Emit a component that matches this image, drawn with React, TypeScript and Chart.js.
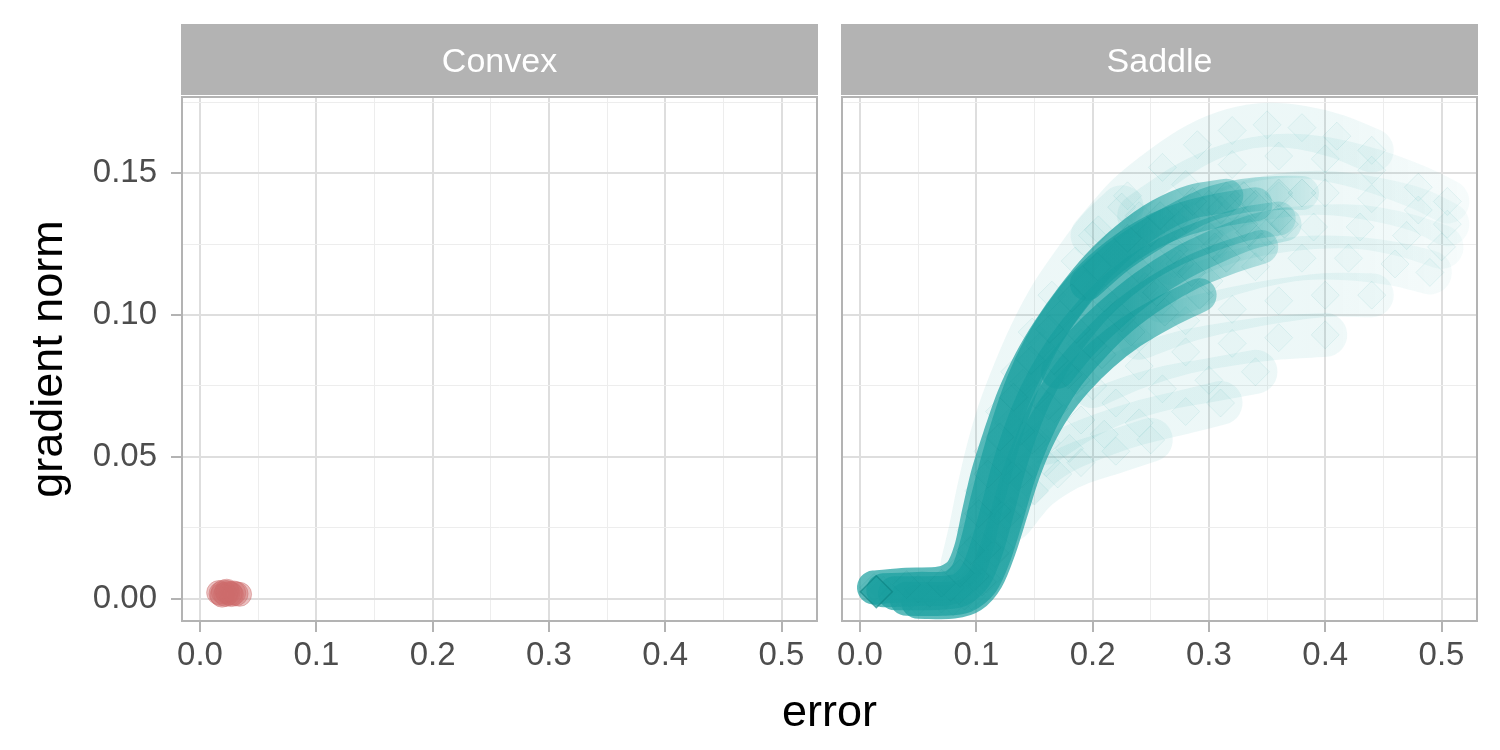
import React, { useEffect, useRef } from "react";
import { Chart, registerables } from "chart.js";

Chart.register(...registerables);

// ---- axes / facets ----
const panelTitles = ["Convex", "Saddle"];
const xTitle = "error";
const yTitle = "gradient norm";
const xMajor = [0, 0.1, 0.2, 0.3, 0.4, 0.5];
const xMinor = [0.05, 0.15, 0.25, 0.35, 0.45];
const yMajor = [0, 0.05, 0.1, 0.15];
const yMinor = [0.025, 0.075, 0.125, 0.175];
const xLimits = [-0.0155, 0.5305];
const yLimits = [-0.0078, 0.1768];

// ---- Convex facet (error, gradient norm) ----
const convexErr = [0.016, 0.018, 0.02, 0.022, 0.024, 0.026, 0.019, 0.023, 0.027, 0.029, 0.031, 0.034];
const convexGrad = [0.0022, 0.0018, 0.0024, 0.0016, 0.0022, 0.0019, 0.0013, 0.0027, 0.0015, 0.0021, 0.0018, 0.0016];

// ---- Saddle facet: dense core trajectories [error, gradient norm] ----
const saddleStart = [[0.014, 0.0025]];
const saddleCore0 = [[0.012, 0.004], [0.04, 0.005], [0.07, 0.0055], [0.086, 0.009], [0.095, 0.017], [0.102, 0.03], [0.11, 0.044], [0.12, 0.057], [0.132, 0.071], [0.147, 0.084], [0.163, 0.095], [0.182, 0.106], [0.204, 0.117], [0.23, 0.127], [0.258, 0.135], [0.286, 0.14], [0.315, 0.142]];
const saddleCore1 = [[0.02, 0.003], [0.05, 0.0035], [0.078, 0.004], [0.092, 0.009], [0.101, 0.02], [0.109, 0.034], [0.118, 0.048], [0.128, 0.062], [0.14, 0.076], [0.155, 0.089], [0.172, 0.1], [0.193, 0.111], [0.22, 0.121], [0.25, 0.129], [0.28, 0.134], [0.31, 0.137], [0.34, 0.139]];
const saddleCore2 = [[0.03, 0.002], [0.06, 0.002], [0.085, 0.003], [0.099, 0.008], [0.109, 0.018], [0.118, 0.031], [0.127, 0.045], [0.138, 0.059], [0.151, 0.072], [0.167, 0.084], [0.186, 0.095], [0.21, 0.106], [0.24, 0.116], [0.27, 0.123], [0.3, 0.128], [0.33, 0.132], [0.36, 0.134]];
const saddleCore3 = [[0.04, 0.0], [0.07, 0.0], [0.09, 0.001], [0.105, 0.006], [0.116, 0.016], [0.126, 0.029], [0.136, 0.043], [0.148, 0.056], [0.162, 0.068], [0.179, 0.079], [0.2, 0.089], [0.225, 0.099], [0.255, 0.108], [0.285, 0.115], [0.315, 0.12], [0.345, 0.124]];
const saddleCore4 = [[0.05, -0.001], [0.08, -0.001], [0.096, 0.001], [0.109, 0.007], [0.12, 0.018], [0.13, 0.031], [0.14, 0.044], [0.152, 0.056], [0.167, 0.067], [0.186, 0.077], [0.208, 0.086], [0.233, 0.094], [0.262, 0.101], [0.292, 0.107]];
const saddleCore5 = [[0.17, 0.08], [0.19, 0.09], [0.215, 0.1], [0.245, 0.11], [0.275, 0.118], [0.305, 0.124], [0.335, 0.129], [0.365, 0.132]];
const saddleCore6 = [[0.195, 0.111], [0.22, 0.12], [0.245, 0.127], [0.27, 0.133], [0.3, 0.139], [0.33, 0.142], [0.36, 0.143], [0.38, 0.143]];

// ---- Saddle facet: sparse spread trajectories ----
const saddleSpread1 = [[0.2, 0.128], [0.23, 0.142], [0.26, 0.152], [0.29, 0.16], [0.32, 0.165], [0.35, 0.167], [0.38, 0.166], [0.41, 0.163], [0.44, 0.158]];
const saddleSpread2 = [[0.24, 0.135], [0.28, 0.146], [0.32, 0.153], [0.36, 0.156], [0.4, 0.155], [0.44, 0.151], [0.48, 0.145], [0.505, 0.14]];
const saddleSpread3 = [[0.28, 0.13], [0.32, 0.138], [0.36, 0.142], [0.4, 0.143], [0.44, 0.141], [0.48, 0.137], [0.505, 0.132]];
const saddleSpread4 = [[0.27, 0.118], [0.31, 0.125], [0.35, 0.129], [0.39, 0.131], [0.43, 0.131], [0.47, 0.128], [0.5, 0.124]];
const saddleSpread5 = [[0.26, 0.105], [0.3, 0.112], [0.34, 0.117], [0.38, 0.12], [0.42, 0.12], [0.46, 0.118], [0.49, 0.115]];
const saddleSpread6 = [[0.24, 0.092], [0.28, 0.098], [0.32, 0.102], [0.36, 0.105], [0.4, 0.107], [0.44, 0.107]];
const saddleSpread7 = [[0.2, 0.075], [0.24, 0.082], [0.28, 0.087], [0.32, 0.09], [0.36, 0.092], [0.4, 0.093]];
const saddleSpread8 = [[0.16, 0.055], [0.19, 0.063], [0.22, 0.069], [0.26, 0.074], [0.3, 0.077], [0.34, 0.08]];
const saddleSpread9 = [[0.14, 0.04], [0.16, 0.048], [0.18, 0.053], [0.21, 0.058], [0.24, 0.062], [0.28, 0.066], [0.31, 0.069]];
const saddleSpread10 = [[0.13, 0.028], [0.15, 0.038], [0.17, 0.044], [0.19, 0.048], [0.22, 0.052], [0.25, 0.056]];
const saddleSpread11 = [[0.088, 0.012], [0.095, 0.024], [0.102, 0.038], [0.11, 0.052], [0.12, 0.066], [0.133, 0.08], [0.148, 0.094], [0.165, 0.107], [0.185, 0.119], [0.205, 0.13], [0.225, 0.138]];

const saddleCore = [saddleCore0, saddleCore1, saddleCore2, saddleCore3, saddleCore4, saddleCore5, saddleCore6];
const saddleSpread = [saddleSpread1, saddleSpread2, saddleSpread3, saddleSpread4, saddleSpread5, saddleSpread6, saddleSpread7, saddleSpread8, saddleSpread9, saddleSpread10, saddleSpread11];

const FONT = '"Liberation Sans", Arial, Helvetica, sans-serif';
const TEAL = "25,159,159";
const RED = "206,108,108";

const near = (list: number[], v: number) => list.some((m) => Math.abs(m - v) < 1e-9);
const pts = (arr: number[][]) => arr.map(([x, y]) => ({ x, y }));

// horizontal alpha gradient along the error axis (style only)
function fade(c: any, from: number, to: number, a0: number, a1: number) {
  const chart = c.chart;
  const xs = chart.scales && chart.scales.x;
  if (!chart.chartArea || !xs) return `rgba(${TEAL},${a0})`;
  const g = chart.ctx.createLinearGradient(xs.getPixelForValue(from), 0, xs.getPixelForValue(to), 0);
  g.addColorStop(0, `rgba(${TEAL},${a0})`);
  g.addColorStop(1, `rgba(${TEAL},${a1})`);
  return g;
}

const facetPlugin = {
  id: "facet",
  afterDatasetsDraw(chart: any, _args: any, opts: any) {
    const { ctx, chartArea: a } = chart;
    ctx.save();
    ctx.strokeStyle = "#B3B3B3";
    ctx.lineWidth = 2;
    ctx.strokeRect(a.left, a.top, a.right - a.left, a.bottom - a.top);
    ctx.fillStyle = "#B3B3B3";
    ctx.fillRect(a.left - 1, 24, a.right - a.left + 2, 71);
    ctx.fillStyle = "#FFFFFF";
    ctx.font = `34px ${FONT}`;
    ctx.textAlign = "center";
    ctx.textBaseline = "middle";
    ctx.fillText(opts.text, (a.left + a.right) / 2, 63);
    ctx.restore();
  },
};

function makeConfig(datasets: any[], title: string, showYLabels: boolean, yWidth: number, padRight: number) {
  return {
    type: "scatter",
    data: { datasets },
    plugins: [facetPlugin],
    options: {
      animation: false,
      responsive: false,
      maintainAspectRatio: false,
      events: [],
      layout: { padding: { top: 97, right: padRight, left: 0, bottom: 0 } },
      plugins: { legend: { display: false }, tooltip: { enabled: false }, facet: { text: title } },
      scales: {
        x: {
          type: "linear",
          min: xLimits[0],
          max: xLimits[1],
          afterBuildTicks: (s: any) => {
            s.ticks = [...xMajor, ...xMinor].sort((a, b) => a - b).map((v) => ({ value: v }));
          },
          afterFit: (s: any) => {
            s.height = 129;
          },
          border: { display: false },
          grid: {
            color: (c: any) => (near(xMajor, c.tick.value) ? "#DEDEDE" : "#EDEDED"),
            lineWidth: (c: any) => (near(xMajor, c.tick.value) ? 2 : 1),
            tickColor: (c: any) => (near(xMajor, c.tick.value) ? "#B3B3B3" : "rgba(0,0,0,0)"),
            tickWidth: 2,
            tickLength: 11,
            drawTicks: true,
          },
          ticks: {
            autoSkip: false,
            maxRotation: 0,
            padding: 4,
            color: "#4D4D4D",
            font: { family: FONT, size: 33 },
            callback: (v: number) => (near(xMajor, v) ? v.toFixed(1) : ""),
          },
        },
        y: {
          type: "linear",
          min: yLimits[0],
          max: yLimits[1],
          afterBuildTicks: (s: any) => {
            s.ticks = [...yMajor, ...yMinor].sort((a, b) => a - b).map((v) => ({ value: v }));
          },
          afterFit: (s: any) => {
            s.width = yWidth;
          },
          border: { display: false },
          title: {
            display: showYLabels,
            text: yTitle,
            color: "#000000",
            font: { family: FONT, size: 45 },
            padding: { top: 23, bottom: 0 },
          },
          grid: {
            color: (c: any) => (near(yMajor, c.tick.value) ? "#DEDEDE" : "#EDEDED"),
            lineWidth: (c: any) => (near(yMajor, c.tick.value) ? 2 : 1),
            tickColor: (c: any) => (near(yMajor, c.tick.value) ? "#B3B3B3" : "rgba(0,0,0,0)"),
            tickWidth: 2,
            tickLength: 11,
            drawTicks: showYLabels,
          },
          ticks: {
            display: showYLabels,
            autoSkip: false,
            padding: 14,
            color: "#4D4D4D",
            font: { family: FONT, size: 33 },
            callback: (v: number) => (near(yMajor, v) ? v.toFixed(2) : ""),
          },
        },
      },
    },
  };
}

function convexDatasets() {
  return [
    {
      data: convexErr.map((x, i) => ({ x, y: convexGrad[i] })),
      pointStyle: "circle",
      pointRadius: 12,
      pointBackgroundColor: `rgba(${RED},0.42)`,
      pointBorderColor: `rgba(${RED},0.45)`,
      pointBorderWidth: 1,
      showLine: false,
    },
  ];
}

function saddleDatasets() {
  const start = {
    data: pts(saddleStart),
    pointStyle: "rectRot",
    pointRadius: 16,
    pointBackgroundColor: `rgba(${TEAL},0.6)`,
    pointBorderColor: "rgba(12,128,128,0.6)",
    pointBorderWidth: 1.5,
    showLine: false,
  };
  const core = saddleCore.map((arr) => ({
    data: pts(arr),
    showLine: true,
    tension: 0.3,
    borderWidth: 34,
    borderColor: (c: any) => fade(c, 0.23, 0.39, 0.7, 0.1),
    borderCapStyle: "round",
    borderJoinStyle: "round",
    pointStyle: "rectRot",
    pointRadius: 14,
    pointBackgroundColor: `rgba(${TEAL},0.05)`,
    pointBorderColor: "rgba(14,130,130,0.12)",
    pointBorderWidth: 1,
  }));
  const spread = saddleSpread.map((arr) => ({
    data: pts(arr),
    showLine: true,
    tension: 0.3,
    borderWidth: 44,
    borderColor: (c: any) => fade(c, 0.38, 0.52, 0.08, 0.04),
    borderCapStyle: "round",
    borderJoinStyle: "round",
    pointStyle: "rectRot",
    pointRadius: 14,
    pointBackgroundColor: `rgba(${TEAL},0.03)`,
    pointBorderColor: `rgba(${TEAL},0.09)`,
    pointBorderWidth: 1,
  }));
  return [start, ...core, ...spread];
}

function Panel(props: { left: number; width: number; make: () => any }) {
  const ref = useRef<HTMLCanvasElement | null>(null);
  useEffect(() => {
    const chart = new Chart(ref.current as HTMLCanvasElement, props.make());
    return () => chart.destroy();
  }, []);
  return (
    <div style={{ position: "absolute", left: props.left, top: 0, width: props.width, height: 750 }}>
      <canvas ref={ref} width={props.width} height={750} style={{ width: props.width, height: 750, display: "block" }} />
    </div>
  );
}

export default function App() {
  return (
    <div style={{ position: "absolute", left: 0, top: 0, width: 1500, height: 750, background: "#FFFFFF", overflow: "hidden" }}>
      <Panel left={0} width={842} make={() => makeConfig(convexDatasets(), panelTitles[0], true, 182, 25)} />
      <Panel left={818} width={682} make={() => makeConfig(saddleDatasets(), panelTitles[1], false, 24, 23)} />
      <div
        style={{
          position: "absolute",
          left: 182,
          width: 1295,
          top: 688,
          textAlign: "center",
          fontFamily: FONT,
          fontSize: 45,
          lineHeight: "45px",
          color: "#000000",
        }}
      >
        {xTitle}
      </div>
    </div>
  );
}
